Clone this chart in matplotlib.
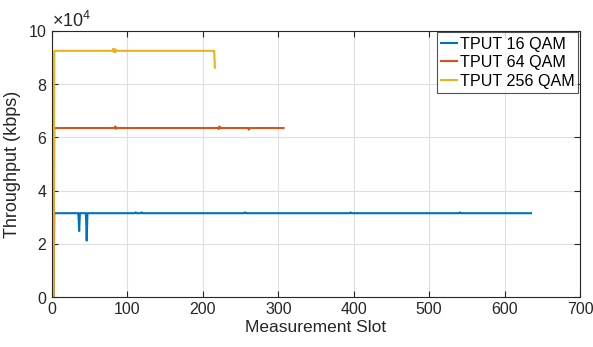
import matplotlib
matplotlib.use("Agg")
import matplotlib.pyplot as plt
from matplotlib.ticker import ScalarFormatter

plt.rcParams['font.family'] = ['Liberation Sans', 'DejaVu Sans']
plt.rcParams['mathtext.fontset'] = 'custom'
plt.rcParams['mathtext.rm'] = 'Liberation Sans'

# Breakpoints of each throughput trace (slot, kbps)
slot_16 = [0, 2, 3, 34, 35, 36, 37, 44, 45, 46, 47, 110, 111, 112, 118, 119, 120, 255, 256, 257, 395, 396, 397, 540, 541, 542, 635]
tput_16 = [0, 0, 31500, 31500, 31500, 24800, 31500, 31500, 31500, 21200, 31500, 31500, 31800, 31500, 31500, 31800, 31500, 31500, 31800, 31500, 31500, 31800, 31500, 31500, 31800, 31500, 31500]

slot_64 = [0, 2, 3, 83, 84, 85, 86, 220, 221, 222, 223, 260, 261, 262, 307]
tput_64 = [0, 0, 63500, 63500, 64100, 63200, 63500, 63500, 63100, 64100, 63500, 63500, 62900, 63500, 63500]

slot_256 = [0, 2, 3, 80, 81, 82, 83, 84, 85, 86, 215, 216]
tput_256 = [0, 0, 92500, 92500, 93200, 92000, 93200, 92000, 92900, 92500, 92500, 86200]

colors = ['#0072BD', '#D95319', '#EDB120']
labels = ['TPUT 16 QAM', 'TPUT 64 QAM', 'TPUT 256 QAM']

fig = plt.figure(figsize=(5.93, 3.47), dpi=100)
ax = fig.add_axes([0.0877, 0.144, 0.8903, 0.767])

ax.plot(slot_16, tput_16, color=colors[0], lw=1.5, label=labels[0])
ax.plot(slot_64, tput_64, color=colors[1], lw=1.5, label=labels[1])
ax.plot(slot_256, tput_256, color=colors[2], lw=1.5, label=labels[2])

ax.set_xlim(0, 700)
ax.set_ylim(0, 100000)
ax.set_xticks(range(0, 701, 100))
ax.set_yticks(range(0, 100001, 20000))

fmt = ScalarFormatter(useMathText=True)
fmt.set_powerlimits((4, 4))
ax.yaxis.set_major_formatter(fmt)
ax.yaxis.get_offset_text().set_fontsize(13)

ax.grid(True, color='#DEDEDE', lw=0.8)
ax.set_axisbelow(True)
ax.tick_params(direction='in', top=True, right=True, labelsize=11.5, colors='#262626', length=4)
for s in ax.spines.values():
    s.set_color('#262626')
    s.set_linewidth(0.8)

ax.set_xlabel('Measurement Slot', fontsize=12.5, color='#262626', labelpad=2)
ax.set_ylabel('Throughput (kbps)', fontsize=13, color='#262626', labelpad=5)

leg = ax.legend(loc='upper right', fontsize=11.6, frameon=True, fancybox=False,
                edgecolor='#262626', handlelength=1.0, handletextpad=0.15,
                borderpad=0.25, labelspacing=0.22, borderaxespad=0.1)
leg.get_frame().set_linewidth(0.8)

fig.savefig('out.png', dpi=100)
